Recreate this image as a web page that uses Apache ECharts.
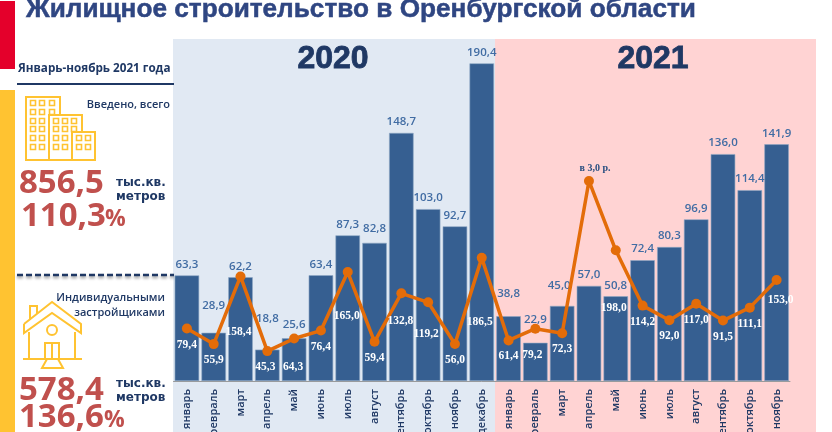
<!DOCTYPE html>
<html>
<head>
<meta charset="utf-8">
<style>
  html, body { margin: 0; padding: 0; background: #fff; overflow: hidden; }
  #chart { width: 832px; height: 432px; }
</style>
</head>
<body>
<div id="chart"></div>
<script src="https://cdn.jsdelivr.net/npm/echarts@6/dist/echarts.min.js"></script>
<script>
const months = [
  'январь', 'февраль', 'март', 'апрель', 'май', 'июнь', 'июль', 'август', 'сентябрь', 'октябрь', 'ноябрь', 'декабрь',
  'январь', 'февраль', 'март', 'апрель', 'май', 'июнь', 'июль', 'август', 'сентябрь', 'октябрь', 'ноябрь',
]
const totalValues = [
  63.3, 28.9, 62.2, 18.8, 25.6, 63.4, 87.3, 82.8, 148.7, 103.0, 92.7, 190.4,
  38.8, 22.9, 45.0, 57.0, 50.8, 72.4, 80.3, 96.9, 136.0, 114.4, 141.9,
]
// the april 2021 point has no number in the picture, only "в 3,0 р."
const percentValues = [
  79.4, 55.9, 158.4, 45.3, 64.3, 76.4, 165.0, 59.4, 132.8, 119.2, 56.0, 186.5,
  61.4, 79.2, 72.3, 303.0, 198.0, 114.2, 92.0, 117.0, 91.5, 111.1, 153.0,
]
const specialLabels = { 15: 'в 3,0 р.' }

// hand moved labels, as on the slide: index -> [dx, dy]
const totalLabelShift = { 1: [0, -16], 3: [0, -20], 4: [0, -3], 7: [0, -3], 12: [0, -12], 13: [0, -12], 14: [-3, -9] }
const percentLabelShift = {
  2: [-2, 40], 3: [-2, 0], 4: [-1, 12], 6: [-1, 28], 8: [-1, 12], 9: [-2, 16], 11: [-2, 48],
  13: [-3, 10], 16: [-2, 42], 22: [4, 4],
}

const navy = '#1f3864'
const yellow = '#ffc331'
const red = '#c0504d'
const sans = '"Open Sans", sans-serif'

const fmt = (v) => v.toFixed(1).replace('.', ',')

const text = (x, y, t, font, fill, align, heavy) => ({
  type: 'text',
  x,
  y,
  style: {
    text: t,
    font,
    fill,
    align: align || 'left',
    verticalAlign: 'middle',
    stroke: heavy ? fill : null,
    lineWidth: heavy || 0,
  },
})
const outline = (shape, type, w) => ({
  type,
  shape,
  style: { fill: 'none', stroke: yellow, lineWidth: w || 2 },
})

const win = (x, y) => outline({ x: x - 2.5, y: y - 2.5, width: 5, height: 5 }, 'rect', 1.6)
const buildingWindows = []
;[103, 112, 121, 129, 138, 147].forEach((y) => [33, 42].forEach((x) => buildingWindows.push(win(x, y))))
;[103, 112].forEach((y) => buildingWindows.push(win(52, y)))
;[121, 129, 138, 147].forEach((y) => [56, 65].forEach((x) => buildingWindows.push(win(x, y))))
;[121, 129].forEach((y) => buildingWindows.push(win(74, y)))
;[138, 147].forEach((y) => [79, 88].forEach((x) => buildingWindows.push(win(x, y))))

const building = [
  outline({ x: 26, y: 97, width: 34, height: 63 }, 'rect'),
  { type: 'rect', shape: { x: 49, y: 115, width: 33, height: 45 }, style: { fill: '#fff', stroke: yellow, lineWidth: 2 } },
  { type: 'rect', shape: { x: 72, y: 132, width: 23, height: 28 }, style: { fill: '#fff', stroke: yellow, lineWidth: 2 } },
].concat(buildingWindows)

const line = (points, w) => outline({ points }, 'polyline', w)
const house = [
  line([[24, 324], [52, 302], [81, 324], [81, 333], [52, 313], [24, 333], [24, 324]]),
  line([[30, 320], [30, 306], [37, 306], [37, 314]]),
  line([[29, 332], [29, 359]]),
  line([[75, 332], [75, 359]]),
  line([[23, 359], [82, 359]]),
  outline({ cx: 52, cy: 330, r: 5 }, 'circle'),
  line([[45, 359], [45, 343], [59, 343], [59, 359]]),
  line([[52, 343], [52, 359]]),
  line([[47, 359], [42, 368], [63, 368], [58, 359]]),
]

const bigNumber = 'bold 33px ' + sans
const unitFont = 'bold 12px "DejaVu Sans", sans-serif'
const yearFont = 'bold 32px "Liberation Sans", sans-serif'

const graphics = [
  // year bands
  { type: 'rect', z: -1, shape: { x: 173, y: 39, width: 322, height: 393 }, style: { fill: '#e1e9f3' } },
  { type: 'rect', z: -1, shape: { x: 495, y: 39, width: 321, height: 393 }, style: { fill: '#ffd3d3' } },
  // side stripes
  { type: 'rect', shape: { x: 0, y: 1, width: 15, height: 68 }, style: { fill: '#e4002b' } },
  { type: 'rect', shape: { x: 0, y: 90, width: 15, height: 342 }, style: { fill: yellow } },
  // head texts
  text(26, 10, 'Жилищное строительство в Оренбургской области', 'bold 26.2px "Liberation Sans", sans-serif', '#2f4682', 'left', 0.5),
  text(333, 59, '2020', yearFont, navy, 'center', 0.8),
  text(653, 59, '2021', yearFont, navy, 'center', 0.8),
  // side panel
  text(18, 69, 'Январь-ноябрь 2021 года', 'bold 11.7px ' + sans, navy),
  { type: 'line', shape: { x1: 17, y1: 84, x2: 174, y2: 84 }, style: { stroke: navy, lineWidth: 2 } },
  text(170, 105, 'Введено, всего', '600 11px ' + sans, navy, 'right'),
  text(19, 184, '856,5', bigNumber, red),
  text(116, 183, 'тыс.кв.', unitFont, navy),
  text(116, 197, 'метров', unitFont, navy),
  text(21, 217, '110,3', bigNumber, red),
  text(105, 219, '%', 'bold 23px ' + sans, red),
  {
    type: 'line',
    shape: { x1: 17, y1: 275, x2: 174, y2: 275 },
    style: { stroke: navy, lineWidth: 2.5, lineDash: [6, 3], shadowBlur: 3, shadowColor: 'rgba(0,0,0,0.4)', shadowOffsetY: 2 },
  },
  text(165, 298, 'Индивидуальными', '600 11px ' + sans, navy, 'right'),
  text(165, 313, 'застройщиками', '600 11px ' + sans, navy, 'right'),
  text(19, 391, '578,4', bigNumber, red),
  text(116, 384, 'тыс.кв.', unitFont, navy),
  text(116, 398, 'метров', unitFont, navy),
  text(19, 418, '136,6', bigNumber, red),
  text(104, 420, '%', 'bold 23px ' + sans, red),
].concat(building, house)

const chart = echarts.init(document.getElementById('chart'), null, { renderer: 'canvas' })
chart.setOption({
  animation: false,
  backgroundColor: '#fff',
  grid: { left: 173.5, top: 39, width: 616.5, height: 342, containLabel: false, outerBoundsMode: 'none' },
  xAxis: {
    type: 'category',
    data: months,
    axisLine: { lineStyle: { color: '#9a9a9a', width: 1 } },
    axisTick: { length: 3, lineStyle: { color: '#9a9a9a' } },
    axisLabel: {
      interval: 0,
      rotate: 90,
      margin: 8,
      color: navy,
      fontFamily: sans,
      fontWeight: 600,
      fontSize: 11,
    },
  },
  yAxis: [
    { type: 'value', min: 0, max: 205, show: false },
    { type: 'value', min: 0, max: 518, show: false },
  ],
  graphic: graphics,
  series: [
    {
      type: 'bar',
      barWidth: 24.5,
      yAxisIndex: 0,
      itemStyle: { color: '#365f91', borderColor: '#8fa7c4', borderWidth: 0.6 },
      data: totalValues.map((value, i) => ({
        value,
        label: {
          show: true,
          position: 'top',
          distance: 5,
          offset: totalLabelShift[i] || [0, 0],
          formatter: fmt(value),
          color: '#416ca3',
          fontFamily: sans,
          fontWeight: 600,
          fontSize: 11.5,
        },
      })),
    },
    {
      type: 'line',
      yAxisIndex: 1,
      symbol: 'circle',
      symbolSize: 10,
      lineStyle: { color: '#e36c09', width: 3.5 },
      itemStyle: { color: '#e36c09' },
      data: percentValues.map((value, i) => {
        const special = specialLabels[i]
        return {
          value,
          label: special
            ? {
                show: true,
                position: 'top',
                distance: 3,
                offset: [6, 0],
                formatter: special,
                color: '#2a4f80',
                fontFamily: '"Liberation Serif", serif',
                fontWeight: 'bold',
                fontSize: 10,
              }
            : {
                show: true,
                position: 'bottom',
                distance: 5,
                offset: percentLabelShift[i] || [0, 0],
                formatter: fmt(value),
                color: '#fff',
                fontFamily: '"Liberation Serif", serif',
                fontWeight: 'bold',
                fontSize: 11.5,
              },
        }
      }),
    },
  ],
})
</script>
</body>
</html>
